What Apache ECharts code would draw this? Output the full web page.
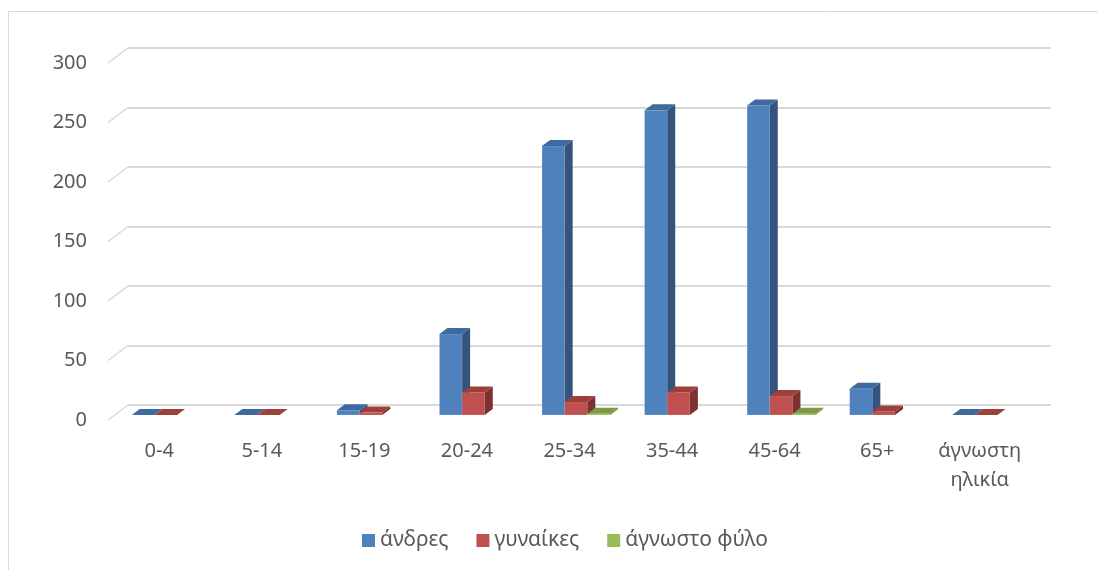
<!DOCTYPE html>
<html><head><meta charset="utf-8">
<script src="https://cdn.jsdelivr.net/npm/echarts@6/dist/echarts.min.js"></script>
<style>html,body{margin:0;padding:0;background:#fff}#c{width:1098px;height:570px}</style>
</head><body><div id="c"></div>
<script>
const categories = ['0-4','5-14','15-19','20-24','25-34','35-44','45-64','65+','άγνωστη\nηλικία'];
const men = [0, 0, 4, 68, 226, 256, 260, 22, 0];
const women = [0, 0, 2, 19, 11, 19, 16, 3, 0];
const unknownSex = [null, null, null, null, 1, null, 1, null, null];
const yTicks = [0, 50, 100, 150, 200, 250, 300];
const seriesNames = ['άνδρες', 'γυναίκες', 'άγνωστο φύλο'];

const FONT = '"Noto Sans", "Open Sans", sans-serif';
const TXT = '#595959';
// 3D projection constants (style/geometry)
const WALL_DX = 20, WALL_DY = -15;   // front plane -> back wall
const BAR_SX = 6.5, BAR_SY = -5;     // front plane -> bar front face
const BAR_DX = 8, BAR_DY = -6;       // bar depth
const BAR_FRAC = 0.221;

const palettes = [
  {front: '#4f81bd', top: '#3f6a9f', side: '#34547d'},
  {front: '#c0504d', top: '#9e3f3c', side: '#7e312f'},
  {front: '#9bbb59', top: '#7d9c41', side: '#607a30'}
];

function makeRender(si) {
  const col = palettes[si];
  return function (params, api) {
    const v = api.value(1);
    if (v === null || v === undefined || isNaN(v)) return null;
    const idx = api.value(0);
    const base = api.coord([idx, 0]);
    const topP = api.coord([idx, v]);
    const band = api.size([1, 0])[0];
    const bw = band * BAR_FRAC;
    const x0 = base[0] - 1.5 * bw + si * bw + BAR_SX;
    const x1 = x0 + bw;
    const yb = base[1] + BAR_SY;
    const yt = topP[1] + BAR_SY;
    const children = [];
    if (yb - yt > 0.3) {
      children.push({type: 'rect', shape: {x: x0, y: yt, width: bw, height: yb - yt},
        style: {fill: col.front, stroke: 'rgba(255,255,255,0.25)', lineWidth: 0.6}});
      children.push({type: 'polygon', shape: {points: [[x1, yb], [x1, yt], [x1 + BAR_DX, yt + BAR_DY], [x1 + BAR_DX, yb + BAR_DY]]},
        style: {fill: col.side}});
    }
    children.push({type: 'polygon', shape: {points: [[x0, yt], [x1, yt], [x1 + BAR_DX, yt + BAR_DY], [x0 + BAR_DX, yt + BAR_DY]]},
      style: {fill: col.top}});
    return {type: 'group', children: children};
  };
}

const seriesData = [men, women, unknownSex];

const chart = echarts.init(document.getElementById('c'), null, {renderer: 'canvas'});
const option = {
  backgroundColor: '#ffffff',
  animation: false,
  graphic: [{type: 'rect', shape: {x: 8.5, y: 11.5, width: 1200, height: 1000},
    style: {fill: 'none', stroke: '#d9d9d9', lineWidth: 1}, silent: true, z: -10}],
  grid: [
    {left: 108, right: 67, top: 63, bottom: 150},
    {left: 128, right: 47, top: 48, bottom: 165}
  ],
  xAxis: [
    {type: 'category', gridIndex: 0, data: categories,
      axisLine: {show: false}, axisTick: {show: false}, splitLine: {show: false},
      axisLabel: {interval: 0, color: TXT, fontSize: 20, fontFamily: FONT, lineHeight: 29, margin: 17}},
    {type: 'value', gridIndex: 1, min: 0, max: 1, show: false}
  ],
  yAxis: [
    {type: 'value', gridIndex: 0, min: 0, max: 300, interval: 50,
      axisLine: {show: false}, axisTick: {show: false}, splitLine: {show: false},
      axisLabel: {color: TXT, fontSize: 20, fontFamily: FONT, margin: 21,
        formatter: function (v) { return yTicks.indexOf(v) >= 0 ? String(v) : ''; }}},
    {type: 'value', gridIndex: 1, min: 0, max: 300, interval: 50,
      axisLine: {show: false}, axisTick: {show: false}, axisLabel: {show: false},
      splitLine: {show: true, lineStyle: {color: '#d9d9d9', width: 2}}}
  ],
  legend: {
    data: seriesNames, left: 357, top: 525, icon: 'rect', itemWidth: 13, itemHeight: 13, itemGap: 28,
    textStyle: {color: TXT, fontSize: 21, fontFamily: FONT}
  },
  series: [
    {type: 'custom', xAxisIndex: 0, yAxisIndex: 0, silent: true, z: 1,
      data: yTicks.map(function (v) { return [0, v]; }),
      encode: {x: 0, y: 1},
      renderItem: function (params, api) {
        const p = api.coord([0, api.value(1)]);
        const x = params.coordSys.x;
        return {type: 'line', shape: {x1: x, y1: p[1], x2: x + WALL_DX, y2: p[1] + WALL_DY},
          style: {stroke: '#d9d9d9', lineWidth: 1.5}};
      }}
  ].concat(seriesNames.map(function (name, si) {
    return {
      name: name, type: 'custom', xAxisIndex: 0, yAxisIndex: 0, z: 3 + si,
      itemStyle: {color: palettes[si].front},
      data: categories.map(function (c, i) { return [i, seriesData[si][i] === null ? '-' : seriesData[si][i]]; }),
      encode: {x: 0, y: 1},
      renderItem: makeRender(si)
    };
  }))
};
chart.setOption(option);
</script>
</body></html>
